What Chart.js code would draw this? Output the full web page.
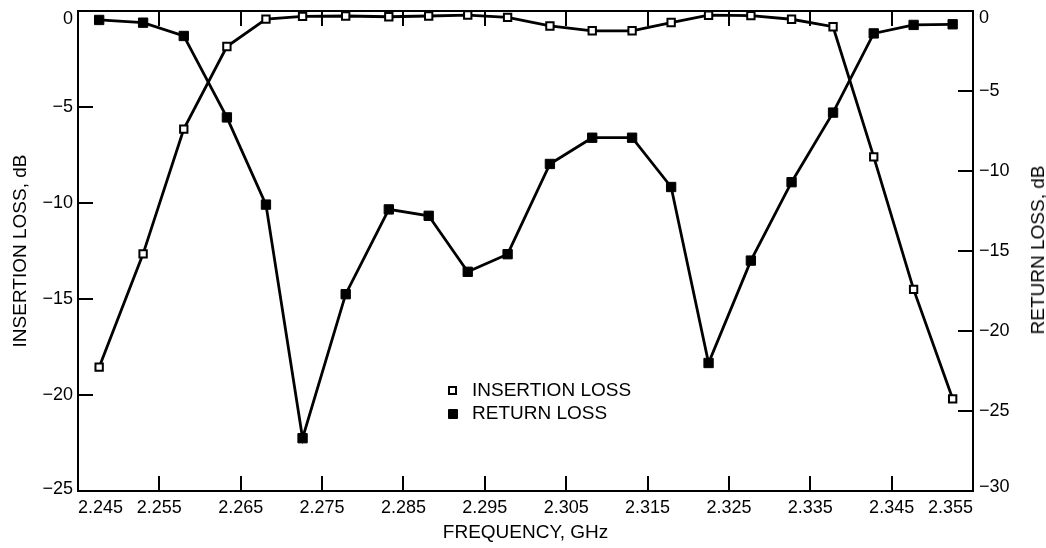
<!DOCTYPE html>
<html>
<head>
<meta charset="utf-8">
<script src="https://cdn.jsdelivr.net/npm/chart.js@4.4.0/dist/chart.umd.min.js"></script>
<style>
  html, body { margin: 0; padding: 0; background: #fff; }
  #wrap { position: relative; width: 1046px; height: 548px; overflow: hidden; }
  #c { position: absolute; left: 0; top: 0; }
  .txt { position: absolute; font-family: "Liberation Sans", Arial, sans-serif; font-size: 19px; color: #000; white-space: nowrap; line-height: 22px; }
  .mk { position: absolute; box-sizing: border-box; }
  #mk1 { left: 448px; top: 385.5px; width: 9px; height: 9px; border: 2px solid #000; background: #fff; }
  #mk2 { left: 448px; top: 408.5px; width: 10px; height: 10px; background: #000; border-radius: 1px; }
  #lt1 { left: 472px; top: 379px; }
  #lt2 { left: 472px; top: 402px; }
  #rtitle { left: 1038px; top: 250px; transform: translate(-50%, -50%) rotate(-90deg); }
</style>
</head>
<body>
<div id="wrap">
  <canvas id="c" width="1046" height="548"></canvas>
  <div class="mk" id="mk1"></div>
  <div class="mk" id="mk2"></div>
  <div class="txt" id="lt1">INSERTION LOSS</div>
  <div class="txt" id="lt2">RETURN LOSS</div>
  <div class="txt" id="rtitle">RETURN LOSS, dB</div>
</div>
<script>
// Frequencies (GHz) of the measured points
const freqs = [2.2476, 2.2530, 2.2580, 2.2633, 2.2681, 2.2726, 2.2779, 2.2832, 2.2881, 2.2929, 2.2978,
               2.3030, 2.3082, 2.3131, 2.3179, 2.3225, 2.3277, 2.3327, 2.3378, 2.3428, 2.3477, 2.3525];
// Insertion loss, dB (left axis)
const insertionLoss = [-18.55, -12.65, -6.15, -1.85, -0.42, -0.28, -0.26, -0.30, -0.26, -0.21, -0.33,
                       -0.78, -1.03, -1.03, -0.60, -0.22, -0.24, -0.43, -0.82, -7.6, -14.5, -20.2];
// Return loss, dB (right axis)
const returnLoss = [-0.56, -0.73, -1.56, -6.65, -12.1, -26.7, -17.7, -12.4, -12.8, -16.3, -15.2,
                    -9.56, -7.92, -7.92, -11.0, -22.0, -15.6, -10.7, -6.35, -1.4, -0.87, -0.83];
// Tick values
const xTicks = [2.245, 2.255, 2.265, 2.275, 2.285, 2.295, 2.305, 2.315, 2.325, 2.335, 2.345, 2.355];
const leftTicks = [0, -5, -10, -15, -20, -25];
const rightTicks = [0, -5, -10, -15, -20, -25, -30];

const FONT = '"Liberation Sans", Arial, sans-serif';
const fmtNeg = v => (v < 0 ? '\u2212' + Math.abs(v) : String(v));
const setTicks = arr => s => { s.ticks = arr.map(v => ({ value: v })); };
const gridOpts = { drawOnChartArea: false, tickLength: -15, color: '#000', tickColor: '#000', lineWidth: 2, tickWidth: 2 };
const borderOpts = { color: '#000', width: 2 };
const tickFont = { family: FONT, size: 18 };
const titleFont = { family: FONT, size: 19 };

// fix the scale size and keep edge labels inside the frame like the original
function fitScale(size, topShift, bottomShift) {
  return s => {
    if (s.isHorizontal()) s.height = size; else s.width = size;
    s.paddingTop = 0; s.paddingBottom = 0; s.paddingLeft = 0; s.paddingRight = 0;
    if (!s.isHorizontal() && !s._patched) {
      s._patched = true;
      const orig = s.getLabelItems.bind(s);
      s.getLabelItems = function (ca) {
        const items = orig(ca);
        try {
          if (!items._shifted && items.length) {
            items._shifted = true;
            const first = items[0], last = items[items.length - 1];
            // first tick is 0 (top), last is the minimum (bottom)
            first.options.translation[1] += topShift;
            last.options.translation[1] += bottomShift;
          }
        } catch (e) {}
        return items;
      };
    }
  };
}

new Chart(document.getElementById('c'), {
  type: 'line',
  data: {
    datasets: [
      {
        label: 'INSERTION LOSS',
        data: freqs.map((f, i) => ({ x: f, y: insertionLoss[i] })),
        yAxisID: 'y', xAxisID: 'x',
        borderColor: '#000', borderWidth: 2.8, tension: 0,
        pointStyle: 'rect', pointRadius: 5.2, pointBorderWidth: 2,
        pointBackgroundColor: '#fff', pointBorderColor: '#000',
        order: 0
      },
      {
        label: 'RETURN LOSS',
        data: freqs.map((f, i) => ({ x: f, y: returnLoss[i] })),
        yAxisID: 'y2', xAxisID: 'x',
        borderColor: '#000', borderWidth: 2.8, tension: 0,
        pointStyle: 'rect', pointRadius: 6.6, pointBorderWidth: 1,
        pointBackgroundColor: '#000', pointBorderColor: '#000',
        order: 1
      }
    ]
  },
  options: {
    responsive: false,
    animation: false,
    layout: { padding: 0 },
    plugins: { legend: { display: false }, tooltip: { enabled: false } },
    scales: {
      x: {
        type: 'linear', position: 'bottom', min: 2.245, max: 2.355,
        afterBuildTicks: setTicks(xTicks),
        afterFit: fitScale(57, 0, 0),
        ticks: { align: 'inner', autoSkip: false, maxRotation: 0, padding: 21, font: tickFont, color: '#000',
                 callback: v => Number(v).toFixed(3) },
        grid: gridOpts, border: borderOpts,
        title: { display: true, text: 'FREQUENCY, GHz', font: titleFont, color: '#000', padding: { top: 0, bottom: 4 } }
      },
      xTop: {
        type: 'linear', position: 'top', min: 2.245, max: 2.355,
        afterBuildTicks: setTicks(xTicks),
        afterFit: fitScale(11, 0, 0),
        ticks: { display: false },
        grid: gridOpts, border: borderOpts
      },
      y: {
        type: 'linear', position: 'left', min: -25, max: 0,
        afterBuildTicks: setTicks(leftTicks),
        afterFit: fitScale(78, 8, -2),
        ticks: { padding: 20, font: tickFont, color: '#000', callback: v => fmtNeg(v) },
        grid: gridOpts, border: borderOpts,
        title: { display: true, text: 'INSERTION LOSS, dB', font: titleFont, color: '#000', padding: { top: 9, bottom: 0 } }
      },
      y2: {
        type: 'linear', position: 'right', min: -30, max: 0,
        afterBuildTicks: setTicks(rightTicks),
        afterFit: fitScale(73, 7, -4),
        ticks: { padding: 21, font: tickFont, color: '#000', callback: v => fmtNeg(v) },
        grid: gridOpts, border: borderOpts
      }
    }
  }
});
</script>
</body>
</html>
